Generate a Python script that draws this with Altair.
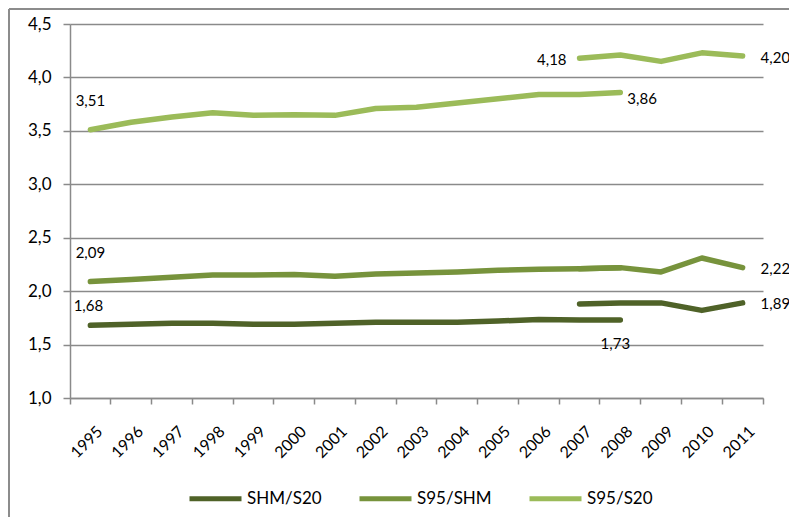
import altair as alt
import pandas as pd

# ---- data ----
years_old = list(range(1995, 2009))
years_new = list(range(2007, 2012))
series_names = ["SHM/S20", "S95/SHM", "S95/S20"]
series_colors = ["#4F6228", "#77933C", "#9BBB59"]

shm_s20_old = [1.68, 1.69, 1.70, 1.70, 1.69, 1.69, 1.70, 1.71, 1.71, 1.71, 1.72, 1.735, 1.73, 1.73]
shm_s20_new = [1.88, 1.89, 1.89, 1.82, 1.89]
s95_shm_old = [2.09, 2.11, 2.13, 2.15, 2.15, 2.155, 2.14, 2.16, 2.17, 2.18, 2.195, 2.205, 2.21, 2.22]
s95_shm_new = [2.21, 2.22, 2.18, 2.31, 2.22]
s95_s20_old = [3.51, 3.58, 3.63, 3.67, 3.645, 3.65, 3.645, 3.71, 3.72, 3.76, 3.80, 3.84, 3.84, 3.86]
s95_s20_new = [4.18, 4.21, 4.15, 4.23, 4.20]

y_ticks = [1.0, 1.5, 2.0, 2.5, 3.0, 3.5, 4.0, 4.5]

rows = []
for name, old, new in zip(series_names,
                          [shm_s20_old, s95_shm_old, s95_s20_old],
                          [shm_s20_new, s95_shm_new, s95_s20_new]):
    for yr, v in zip(years_old, old):
        rows.append(dict(series=name, seg="old", year=yr, value=v))
    for yr, v in zip(years_new, new):
        rows.append(dict(series=name, seg="new", year=yr, value=v))
df = pd.DataFrame(rows)
df["label"] = df["value"].map(lambda v: f"{v:.2f}".replace(".", ","))

FONT = "Lato"
GRID = "#8a8a8a"
W, H = 693, 374
PAD = {"left": 62, "top": 16, "right": 26, "bottom": 119}

x_enc = alt.X(
    "year:O",
    bandPosition=0.5,
    scale=alt.Scale(type="band", paddingInner=0, paddingOuter=0),
    axis=alt.Axis(
        title=None, labelAngle=-45, bandPosition=1, tickExtra=True,
        labelFont=FONT, labelFontSize=16, labelColor="#000000",
        tickSize=6, tickColor=GRID, tickWidth=1.5,
        domainColor=GRID, domainWidth=1.5, labelPadding=19, labelOffset=4,
        grid=False,
    ),
)
y_enc = alt.Y(
    "value:Q",
    scale=alt.Scale(domain=[1.0, 4.5], nice=False, zero=False),
    axis=alt.Axis(
        title=None, values=y_ticks,
        labelExpr="replace(format(datum.value, '.1f'), '.', ',')",
        labelFont=FONT, labelFontSize=17, labelColor="#000000",
        tickSize=7, tickColor=GRID, tickWidth=1.5, labelPadding=12,
        domainColor=GRID, domainWidth=1.5,
        grid=True, gridColor=GRID, gridWidth=1.5,
    ),
)

base = alt.Chart(df)

lines = base.mark_line(strokeWidth=5.5, strokeCap="round", strokeJoin="round").encode(
    x=x_enc,
    y=y_enc,
    detail="seg:N",
    color=alt.Color(
        "series:N",
        scale=alt.Scale(domain=series_names, range=series_colors),
        legend=alt.Legend(
            title=None, orient="none", direction="horizontal",
            legendX=117, legendY=446,
            symbolType="stroke", symbolSize=2704, symbolStrokeWidth=5,
            labelFont=FONT, labelFontSize=17, labelColor="#000000",
            labelOffset=3, columnPadding=27,
        ),
    ),
)


def label(series, seg, year, align, dx, dy):
    return base.transform_filter(
        (alt.datum.series == series) & (alt.datum.seg == seg) & (alt.datum.year == year)
    ).mark_text(
        font=FONT, fontSize=15, color="#000000", align=align, baseline="middle", dx=dx, dy=dy
    ).encode(x=x_enc, y=y_enc, text="label:N")


labels = [
    label("S95/S20", "old", 1995, "center", 0, -29),
    label("S95/S20", "new", 2007, "right", -13, 2),
    label("S95/S20", "old", 2008, "left", 7, 7),
    label("S95/S20", "new", 2011, "left", 18, 2),
    label("S95/SHM", "old", 1995, "center", 0, -29),
    label("SHM/S20", "old", 1995, "center", -2, -19),
    label("S95/SHM", "new", 2011, "left", 18, 1),
    label("SHM/S20", "new", 2011, "left", 18, 1),
    label("SHM/S20", "old", 2008, "center", -5, 24),
]

frame_data = alt.Data(values=[{"k": 1}])
frame_left = alt.Chart(frame_data).mark_rule(color="#8c8c8c", strokeWidth=2).encode(
    x=alt.value(-61), y=alt.value(-15), y2=alt.value(H + PAD["bottom"])
)
frame_top = alt.Chart(frame_data).mark_rule(color="#8c8c8c", strokeWidth=2).encode(
    x=alt.value(-61), x2=alt.value(W + PAD["right"]), y=alt.value(-15)
)

chart = alt.layer(lines, *labels, frame_left, frame_top).properties(
    width=W, height=H, autosize=alt.AutoSizeParams(type="none"), padding=PAD,
    background="#ffffff",
).configure_view(stroke=None)

chart.save("out.html", embed_options={"renderer": "svg", "actions": False})
